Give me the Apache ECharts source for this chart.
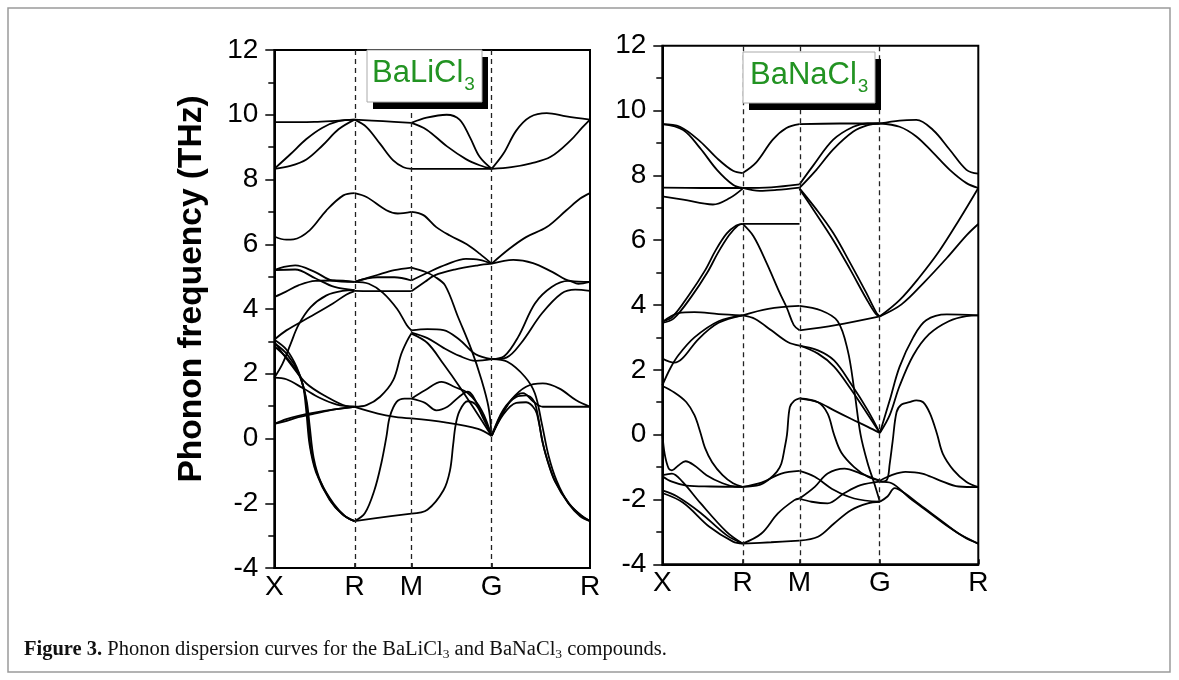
<!DOCTYPE html>
<html><head><meta charset="utf-8">
<script src="https://cdn.jsdelivr.net/npm/echarts@6/dist/echarts.min.js"></script>
<style>html,body{margin:0;padding:0;background:#fff}#c{width:1179px;height:680px}</style>
</head><body><div id="c"></div>
<script>
// High-symmetry path (cumulative |k|) and labels
const kPoints = [0, 0.7071, 1.2071, 1.9142, 2.7802];
const kLabels = ['X', 'R', 'M', 'G', 'R'];
const yMin = -4, yMax = 12, yStep = 2;

// Curves per path segment: [t (0..1 along segment), frequency THz]
// ---------- BaLiCl3 ----------
const liXR = [
  [[0,9.77],[0.5,9.78],[0.8,9.82],[1,9.85]],
  [[0,8.33],[0.2,8.78],[0.4,9.25],[0.6,9.6],[0.8,9.8],[1,9.85]],
  [[0,8.33],[0.2,8.42],[0.4,8.62],[0.6,9.05],[0.8,9.55],[1,9.85]],
  [[0,6.24],[0.15,6.14],[0.24,6.15],[0.44,6.43],[0.65,7.05],[0.86,7.51],[1,7.58]],
  [[0,5.2],[0.12,5.3],[0.26,5.35],[0.51,5.14],[0.72,4.88],[1,4.84]],
  [[0,5.2],[0.26,5.22],[0.51,4.95],[0.75,4.68],[1,4.58]],
  [[0,4.37],[0.14,4.53],[0.3,4.73],[0.51,4.87],[0.75,4.88],[1,4.84]],
  [[0,3.05],[0.15,3.34],[0.44,3.75],[0.73,4.17],[0.9,4.45],[1,4.55]],
  [[0,1.88],[0.1,2.3],[0.2,2.9],[0.3,3.5],[0.45,4.05],[0.65,4.42],[0.85,4.56],[1,4.58]],
  [[0,2.98],[0.2,2.31],[0.4,1.7],[0.65,1.29],[0.9,1.0],[1,0.98]],
  [[0,1.88],[0.15,1.83],[0.36,1.55],[0.57,1.25],[0.78,1.05],[1,0.98]],
  [[0,0.45],[0.15,0.6],[0.3,0.7],[0.5,0.8],[0.75,0.9],[1,0.98]],
  [[0,0.45],[0.12,0.52],[0.3,0.66],[0.5,0.77],[0.75,0.9],[1,0.98]],
  [[0,3.05],[0.15,2.75],[0.28,2.2],[0.36,1.6],[0.4,0.8],[0.44,-0.2],[0.52,-1.05],[0.69,-1.9],[0.85,-2.35],[1,-2.55]],
  [[0,2.95],[0.16,2.6],[0.3,2.05],[0.38,1.4],[0.42,0.6],[0.46,-0.4],[0.55,-1.2],[0.71,-1.95],[0.87,-2.38],[1,-2.55]],
  [[0,2.85],[0.17,2.45],[0.32,1.9],[0.4,1.2],[0.44,0.4],[0.49,-0.6],[0.58,-1.35],[0.74,-2.02],[0.89,-2.42],[1,-2.55]]
];
const liRM = [
  [[0,9.85],[0.5,9.8],[1,9.75]],
  [[0,9.85],[0.21,9.62],[0.45,9.1],[0.68,8.59],[0.86,8.38],[1,8.33]],
  [[0,7.58],[0.21,7.46],[0.56,7.05],[0.76,6.95],[1,7.0]],
  [[0,4.84],[0.4,5.05],[0.7,5.2],[1,5.28]],
  [[0,4.84],[0.4,4.98],[0.7,4.98],[1,4.88]],
  [[0,4.56],[0.5,4.55],[1,4.55]],
  [[0,4.84],[0.25,4.78],[0.5,4.5],[0.75,4.0],[0.92,3.5],[1,3.34]],
  [[0,0.98],[0.41,0.77],[0.71,0.67],[1,0.62]],
  [[0,0.98],[0.21,1.03],[0.45,1.29],[0.68,1.8],[0.82,2.6],[0.92,3.0],[1,3.24]],
  [[0,-2.55],[0.18,-2.31],[0.35,-1.59],[0.47,-0.77],[0.56,0.05],[0.62,0.67],[0.74,1.13],[0.88,1.23],[1,1.23]],
  [[0,-2.55],[0.41,-2.45],[1,-2.32]]
];
const liMG = [
  [[0,9.75],[0.19,9.91],[0.44,10.0],[0.6,9.85],[0.73,9.3],[0.85,8.7],[1,8.33]],
  [[0,9.75],[0.19,9.54],[0.44,9.03],[0.68,8.63],[0.85,8.44],[1,8.33]],
  [[0,8.33],[1,8.33]],
  [[0,7.0],[0.15,6.9],[0.31,6.53],[0.48,6.27],[0.69,6.0],[0.85,5.71],[1,5.4]],
  [[0,4.55],[0.17,4.84],[0.29,5.04],[0.54,5.22],[0.83,5.35],[1,5.4]],
  [[0,4.88],[0.2,5.12],[0.44,5.38],[0.68,5.55],[0.85,5.52],[1,5.4]],
  [[0,5.28],[0.17,5.15],[0.29,5.0],[0.42,4.73],[0.58,3.76],[0.75,2.73],[0.875,1.8],[0.96,0.98],[1,0.08]],
  [[0,3.34],[0.2,3.38],[0.4,3.35],[0.6,3.05],[0.8,2.6],[1,2.45]],
  [[0,3.27],[0.2,3.1],[0.4,2.8],[0.6,2.55],[0.8,2.4],[1,2.45]],
  [[0,3.24],[0.2,2.95],[0.4,2.3],[0.6,1.6],[0.8,0.85],[1,0.08]],
  [[0,1.23],[0.17,1.49],[0.375,1.75],[0.54,1.59],[0.71,1.39],[0.875,0.87],[1,0.08]],
  [[0,1.23],[0.17,1.1],[0.31,0.87],[0.45,0.98],[0.6,1.3],[0.7,1.45],[0.85,0.9],[1,0.08]],
  [[0,-2.32],[0.2,-2.2],[0.4,-1.6],[0.48,-1.0],[0.52,-0.2],[0.55,0.4],[0.6,0.85],[0.7,1.15],[0.8,1.05],[0.9,0.6],[1,0.08]],
  [[0,0.62],[0.42,0.5],[0.83,0.3],[1,0.08]]
];
const liGR = [
  [[0,8.33],[0.12,8.8],[0.25,9.51],[0.39,9.93],[0.56,10.05],[0.76,9.95],[1,9.85]],
  [[0,8.33],[0.2,8.38],[0.4,8.5],[0.6,8.7],[0.8,9.2],[0.92,9.6],[1,9.85]],
  [[0,5.4],[0.18,5.86],[0.35,6.22],[0.56,6.53],[0.76,7.05],[0.9,7.41],[1,7.58]],
  [[0,5.4],[0.22,5.52],[0.42,5.42],[0.62,5.14],[0.8,4.87],[1,4.84]],
  [[0,2.45],[0.13,2.55],[0.27,3.14],[0.44,4.17],[0.61,4.68],[0.78,4.87],[0.88,4.78],[1,4.84]],
  [[0,2.45],[0.15,2.5],[0.3,2.95],[0.51,3.86],[0.71,4.48],[0.85,4.6],[1,4.56]],
  [[0,0.08],[0.1,0.7],[0.2,1.2],[0.35,1.6],[0.52,1.7],[0.69,1.54],[0.86,1.18],[1,0.98]],
  [[0,0.08],[0.1,0.75],[0.22,1.25],[0.32,1.4],[0.42,1.15],[0.52,0.98],[1,0.98]],
  [[0,0.08],[0.12,0.9],[0.25,1.28],[0.35,1.33],[0.43,1.15],[0.47,0.7],[0.51,0.0],[0.56,-0.6],[0.64,-1.3],[0.78,-2.0],[0.9,-2.35],[1,-2.55]],
  [[0,0.08],[0.12,0.75],[0.25,1.1],[0.35,1.12],[0.44,0.9],[0.48,0.5],[0.52,-0.15],[0.57,-0.7],[0.65,-1.35],[0.79,-2.02],[0.91,-2.38],[1,-2.55]],
  [[0,2.45],[0.16,2.37],[0.34,1.9],[0.44,1.39],[0.51,0.46],[0.58,-0.55],[0.66,-1.3],[0.78,-2.0],[0.9,-2.4],[1,-2.55]]
];
// ---------- BaNaCl3 ----------
const naXR = [
  [[0,9.58],[0.22,9.5],[0.47,9.05],[0.68,8.53],[0.88,8.14],[1,8.07]],
  [[0,9.58],[0.26,9.4],[0.47,8.84],[0.68,8.17],[0.88,7.71],[1,7.61]],
  [[0,7.62],[0.5,7.61],[1,7.61]],
  [[0,7.35],[0.26,7.25],[0.63,7.1],[0.84,7.3],[1,7.59]],
  [[0,3.5],[0.12,3.62],[0.33,4.3],[0.53,5.06],[0.66,5.67],[0.8,6.2],[0.92,6.45],[1,6.5]],
  [[0,3.45],[0.14,3.58],[0.36,4.25],[0.56,5.0],[0.69,5.6],[0.83,6.15],[0.94,6.45],[1,6.5]],
  [[0,3.47],[0.2,3.75],[0.4,3.78],[0.7,3.72],[1,3.68]],
  [[0,2.35],[0.15,2.22],[0.25,2.35],[0.45,2.95],[0.7,3.45],[1,3.68]],
  [[0,1.52],[0.1,2.05],[0.2,2.45],[0.4,3.0],[0.7,3.5],[1,3.68]],
  [[0,1.5],[0.15,1.3],[0.3,1.0],[0.4,0.6],[0.47,0.1],[0.53,-0.4],[0.62,-0.85],[0.75,-1.25],[0.88,-1.5],[1,-1.61]],
  [[0,0.05],[0.03,-0.6],[0.08,-1.05],[0.12,-1.1],[0.2,-0.95],[0.29,-0.82],[0.4,-0.95],[0.55,-1.25],[0.75,-1.5],[0.9,-1.6],[1,-1.61]],
  [[0,-1.28],[0.12,-1.45],[0.3,-1.57],[0.6,-1.6],[1,-1.61]],
  [[0,-1.25],[0.12,-1.2],[0.25,-1.45],[0.47,-2.1],[0.8,-3.0],[1,-3.36]],
  [[0,-1.72],[0.18,-1.9],[0.47,-2.4],[0.8,-3.1],[1,-3.36]],
  [[0,-1.8],[0.26,-2.1],[0.59,-2.85],[0.88,-3.3],[1,-3.36]]
];
const naRM = [
  [[0,8.07],[0.24,8.4],[0.53,9.1],[0.77,9.46],[1,9.58]],
  [[0,7.61],[0.3,7.52],[0.6,7.55],[1,7.62]],
  [[0,7.61],[0.5,7.63],[1,7.72]],
  [[0,6.5],[1,6.5]],
  [[0,6.5],[0.19,6.12],[0.42,5.3],[0.65,4.38],[0.78,3.9],[0.9,3.38],[1,3.22]],
  [[0,3.68],[0.45,3.88],[1,3.97]],
  [[0,3.68],[0.22,3.57],[0.51,3.21],[0.8,2.85],[1,2.75]],
  [[0,-1.61],[0.33,-1.48],[0.68,-1.2],[1,-1.12]],
  [[0,-1.61],[0.3,-1.55],[0.45,-1.4],[0.6,-1.15],[0.68,-0.9],[0.74,-0.4],[0.78,0.0],[0.83,0.85],[0.91,1.05],[1,1.12]],
  [[0,-3.36],[0.33,-3.05],[0.62,-2.43],[0.91,-2.02],[1,-1.97]],
  [[0,-3.36],[0.5,-3.32],[1,-3.27]]
];
const naMG = [
  [[0,9.58],[0.5,9.6],[1,9.6]],
  [[0,7.72],[0.17,8.3],[0.42,9.1],[0.67,9.5],[0.85,9.6],[1,9.6]],
  [[0,7.61],[0.21,8.17],[0.42,8.8],[0.67,9.35],[0.85,9.55],[1,9.6]],
  [[0,7.6],[0.21,6.95],[0.42,6.22],[0.63,5.3],[0.83,4.38],[0.96,3.75],[1,3.65]],
  [[0,7.58],[0.21,6.8],[0.42,6.0],[0.63,5.1],[0.83,4.2],[0.95,3.72],[1,3.65]],
  [[0,3.97],[0.27,3.83],[0.475,3.5],[0.6,2.6],[0.68,1.4],[0.76,0.0],[0.85,-0.9],[0.93,-1.5],[1,-2.07]],
  [[0,3.22],[0.45,3.38],[1,3.65]],
  [[0,2.75],[0.23,2.6],[0.43,2.29],[0.64,1.57],[0.85,0.75],[1,0.05]],
  [[0,2.75],[0.23,2.5],[0.43,2.1],[0.64,1.4],[0.85,0.62],[1,0.05]],
  [[0,1.12],[0.23,1.0],[0.43,0.75],[0.64,0.49],[0.85,0.24],[1,0.05]],
  [[0,1.12],[0.23,1.0],[0.35,0.65],[0.43,0.0],[0.52,-0.55],[0.68,-1.0],[0.85,-1.3],[1,-1.42]],
  [[0,-1.12],[0.19,-1.3],[0.43,-1.71],[0.68,-1.97],[1,-2.07]],
  [[0,-1.97],[0.19,-1.61],[0.35,-1.2],[0.56,-1.05],[0.76,-1.2],[1,-1.42]],
  [[0,-1.97],[0.15,-2.07],[0.35,-2.12],[0.56,-1.8],[0.76,-1.56],[1,-1.45]],
  [[0,-3.27],[0.23,-3.15],[0.43,-2.74],[0.64,-2.33],[0.85,-2.12],[1,-2.07]]
];
const naGR = [
  [[0,9.6],[0.2,9.69],[0.37,9.71],[0.54,9.4],[0.71,8.79],[0.88,8.17],[1,8.05]],
  [[0,9.6],[0.2,9.5],[0.37,9.2],[0.54,8.7],[0.71,8.17],[0.88,7.76],[1,7.61]],
  [[0,3.65],[0.2,4.15],[0.4,4.85],[0.6,5.65],[0.8,6.6],[1,7.61]],
  [[0,3.65],[0.22,4.02],[0.45,4.7],[0.68,5.45],[0.88,6.15],[1,6.5]],
  [[0,0.05],[0.1,1.06],[0.2,2.09],[0.34,3.01],[0.47,3.53],[0.68,3.71],[1,3.68]],
  [[0,0.05],[0.1,0.6],[0.2,1.5],[0.34,2.45],[0.5,3.1],[0.7,3.5],[0.88,3.66],[1,3.68]],
  [[0,-1.42],[0.12,-1.25],[0.26,-1.15],[0.43,-1.2],[0.6,-1.4],[0.8,-1.6],[1,-1.62]],
  [[0,-1.45],[0.07,-1.4],[0.1,-0.9],[0.13,-0.2],[0.17,0.7],[0.22,0.93],[0.3,1.0],[0.37,1.06],[0.44,1.0],[0.51,0.65],[0.58,0.03],[0.64,-0.59],[0.75,-1.1],[0.88,-1.46],[1,-1.62]],
  [[0,-1.45],[0.12,-1.5],[0.3,-1.95],[0.5,-2.4],[0.7,-2.85],[0.88,-3.2],[1,-3.36]],
  [[0,-2.07],[0.08,-1.9],[0.15,-1.65],[0.25,-1.8],[0.4,-2.15],[0.6,-2.6],[0.8,-3.05],[1,-3.36]]
];

const panels = [
  { name: 'BaLiCl', segs: [liXR, liRM, liMG, liGR] },
  { name: 'BaNaCl', segs: [naXR, naRM, naMG, naGR] }
];

const FONT = 'Liberation Sans, Arial, sans-serif';
const SERIF = 'Liberation Serif, Times New Roman, serif';

function bandSeries(segs, idx) {
  const out = [];
  segs.forEach((curves, s) => {
    const k0 = kPoints[s], k1 = kPoints[s + 1];
    curves.forEach(c => {
      out.push({
        type: 'line', xAxisIndex: idx, yAxisIndex: idx, smooth: 0.35,
        symbol: 'none', silent: true, animation: false,
        lineStyle: { color: '#000', width: 1.8 },
        data: c.map(p => [k0 + p[0] * (k1 - k0), p[1]])
      });
    });
  });
  return out;
}
function dashSeries(idx) {
  return {
    type: 'line', xAxisIndex: idx, yAxisIndex: idx, data: [], silent: true,
    markLine: {
      symbol: ['none', 'none'], silent: true, animation: false,
      label: { show: false },
      lineStyle: { type: [5, 4], color: '#222', width: 1.3 },
      data: kPoints.slice(1, 4).map(k => ({ xAxis: k }))
    }
  };
}
function xAxisCfg(idx) {
  return {
    type: 'value', gridIndex: idx, min: kPoints[0], max: kPoints[kPoints.length - 1],
    axisLine: { show: true, onZero: false, lineStyle: { color: '#000', width: 2 } },
    axisTick: { show: true, inside: true, length: 5, customValues: kPoints, lineStyle: { color: '#000', width: 1.5 } },
    axisLabel: {
      customValues: kPoints, color: '#000', fontSize: 28, fontFamily: FONT, margin: 5,
      formatter: v => { const i = kPoints.findIndex(k => Math.abs(k - v) < 1e-6); return i >= 0 ? kLabels[i] : ''; }
    },
    splitLine: { show: false }
  };
}
function yAxisCfg(idx) {
  const cfg = {
    type: 'value', gridIndex: idx, min: yMin, max: yMax, interval: yStep,
    axisLine: { show: true, onZero: false, lineStyle: { color: '#000', width: 2 } },
    axisTick: { show: true, inside: false, length: 9, lineStyle: { color: '#000', width: 1.5 } },
    minorTick: { show: true, splitNumber: 2, length: 6, lineStyle: { color: '#000', width: 1.5 } },
    axisLabel: { color: '#000', fontSize: 28, fontFamily: FONT, margin: 16 },
    splitLine: { show: false }
  };
  if (idx === 0) {
    Object.assign(cfg, {
      name: 'Phonon frequency (THz)', nameLocation: 'middle', nameGap: 66, nameRotate: 90,
      nameTextStyle: { fontSize: 33.5, fontWeight: 'bold', fontFamily: FONT, color: '#000', padding: [0, 0, 0, 40] }
    });
  }
  return cfg;
}
const GREEN = '#229322';
const richT = {
  m: { fontSize: 31, lineHeight: 36, color: GREEN, fontFamily: FONT, fontWeight: 'normal', verticalAlign: 'top' },
  s: { fontSize: 19, lineHeight: 20, color: GREEN, fontFamily: FONT, fontWeight: 'normal', verticalAlign: 'bottom', padding: [29, 0, 0, 1] }
};
function boxTitle(name, left, top, padding) {
  return {
    text: '{m|' + name + '}{s|3}', left: left, top: top, padding: padding, z: 12,
    textStyle: { fontWeight: 'normal', rich: richT }
  };
}
// label boxes (white box with grey edge and a solid black drop shadow)
function labelBox(x, y, w, h) {
  return [
    { type: 'rect', silent: true, z: 10, shape: { x: x + 6, y: y + 7, width: w, height: h }, style: { fill: '#000' } },
    { type: 'rect', silent: true, z: 11, shape: { x: x, y: y, width: w, height: h }, style: { fill: '#fff', stroke: '#aaa', lineWidth: 1 } }
  ];
}

const option = {
  backgroundColor: '#fff',
  animation: false,
  grid: [
    { left: 274.3, top: 50, width: 315.7, height: 518, show: true, borderColor: '#000', borderWidth: 2, backgroundColor: 'transparent' },
    { left: 662.3, top: 45.7, width: 316, height: 518.6, show: true, borderColor: '#000', borderWidth: 2, backgroundColor: 'transparent' }
  ],
  xAxis: [xAxisCfg(0), xAxisCfg(1)],
  yAxis: [yAxisCfg(0), yAxisCfg(1)],
  title: [
    boxTitle(panels[0].name, 367, 54, [4, 5, 2, 5]),
    boxTitle(panels[1].name, 743, 56, [4, 6, 1, 7]),
    { text: '{b|Figure 3.} Phonon dispersion curves for the BaLiCl{s|3} and BaNaCl{s|3} compounds.',
      left: 24, top: 638, padding: 0,
      textStyle: {
        fontFamily: SERIF, fontSize: 20.5, color: '#111', fontWeight: 'normal',
        rich: {
          b: { fontFamily: SERIF, fontSize: 20.5, fontWeight: 'bold', color: '#111' },
          s: { fontFamily: SERIF, fontSize: 13.5, color: '#111', verticalAlign: 'bottom', padding: [9, 0, 0, 0] }
        }
      } }
  ],
  graphic: [
    { type: 'rect', silent: true, z: -10, shape: { x: 8, y: 8, width: 1162, height: 664 },
      style: { fill: 'none', stroke: '#9a9a9a', lineWidth: 1.5 } },
    ...labelBox(367, 50, 115, 52),
    ...labelBox(743, 52, 132, 51)
  ],
  series: [
    dashSeries(0), dashSeries(1),
    ...bandSeries(panels[0].segs, 0),
    ...bandSeries(panels[1].segs, 1)
  ]
};
const chart = echarts.init(document.getElementById('c'), null, { renderer: 'canvas' });
chart.setOption(option);
</script></body></html>
